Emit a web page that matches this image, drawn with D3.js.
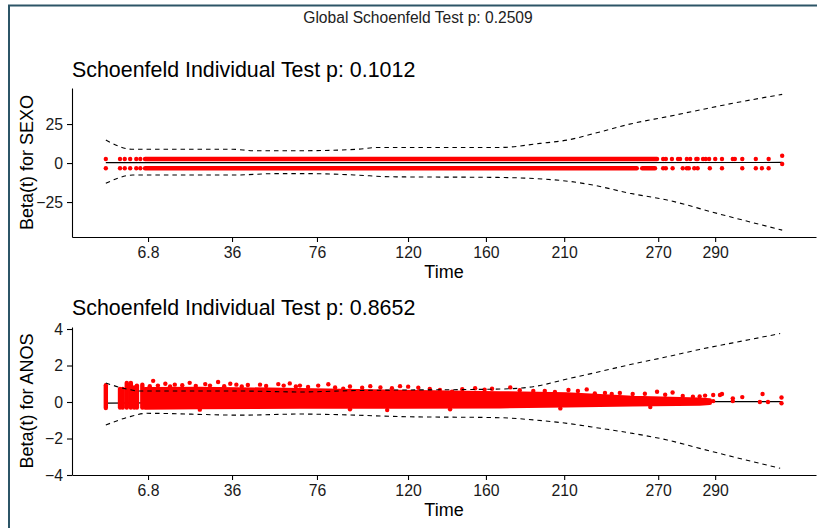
<!DOCTYPE html>
<html>
<head>
<meta charset="utf-8">
<script src="https://cdn.jsdelivr.net/npm/d3@7"></script>
<style>
  html, body { margin: 0; padding: 0; background: #fff; }
  svg { display: block; font-family: "Liberation Sans", Arial, sans-serif; }
</style>
</head>
<body>
<svg id="chart" width="817" height="528"></svg>
<script>
// ---------------- DATA ----------------
const globalTitle = "Global Schoenfeld Test p: 0.2509";
const panelTitles = ["Schoenfeld Individual Test p: 0.1012", "Schoenfeld Individual Test p: 0.8652"];
const yLabels = ["Beta(t) for SEXO", "Beta(t) for ANOS"];
const xLabel = "Time";

// x axis: transformed time (KM scale), tick positions and their time labels
const tickT = [0.0624, 0.1866, 0.3122, 0.4468, 0.562, 0.6777, 0.8167, 0.9009];
const tickLabels = ["6.8", "36", "76", "120", "160", "210", "270", "290"];

const sexoYTicks = [-25, 0, 25];
const anosYTicks = [-4, -2, 0, 2, 4];

// ---- SEXO panel ----
const sexoFitT = [0, 0.3, 0.6, 1.0];
const sexoFitV = [0.3, 0.3, 0.3, 0.4];
const sexoUpT = [0, 0.040, 0.188, 0.218, 0.287, 0.371, 0.401, 0.583, 0.642, 0.682, 0.731, 0.779, 0.830, 0.878, 0.927, 1.0];
const sexoUpV = [14.7, 8.8, 8.8, 7.9, 7.9, 8.8, 10, 10, 12.6, 14.7, 20, 25.4, 29.7, 34, 38.3, 44];
const sexoLoT = [0, 0.040, 0.188, 0.250, 0.300, 0.371, 0.420, 0.578, 0.676, 0.720, 0.775, 0.830, 0.904, 1.0];
const sexoLoV = [-13, -7.7, -7.7, -6.8, -6.8, -7.7, -8.8, -9.2, -11.3, -14.1, -19.4, -23.7, -32.3, -43];
const sexoRowUpper = 2.6;   // residual level for one group
const sexoRowLower = -3.3;  // residual level for the other group
// dense runs of points (start, end) in transformed time
const sexoUpperRunStart = [0.058];
const sexoUpperRunEnd   = [0.815];
const sexoLowerRunStart = [0.058, 0.793];
const sexoLowerRunEnd   = [0.785, 0.812];
// isolated points
const sexoUpperPtsT = [0, 0.021, 0.028, 0.036, 0.045, 0.051, 0.824, 0.828, 0.837, 0.846, 0.849, 0.859, 0.864, 0.873, 0.875, 0.883, 0.887, 0.892, 0.901, 0.911, 0.927, 0.930, 0.941, 0.961, 0.980];
const sexoLowerPtsT = [0, 0.021, 0.028, 0.036, 0.045, 0.051, 0.824, 0.828, 0.838, 0.853, 0.859, 0.862, 0.870, 0.875, 0.893, 0.911, 0.941, 0.961, 0.970, 0.980];
const sexoLastT = [1.0, 1.0];
const sexoLastV = [4.7, -0.6];

// ---- ANOS panel ----
const anosFitT = [0, 0.3, 0.6, 1.0];
const anosFitV = [-0.06, 0, 0.02, 0.02];
const anosUpT = [0, 0.031, 0.051, 0.2, 0.287, 0.361, 0.583, 0.632, 0.682, 0.731, 0.779, 0.830, 0.878, 0.927, 0.997];
const anosUpV = [1.04, 0.71, 0.6, 0.6, 0.55, 0.62, 0.71, 0.84, 1.26, 1.67, 2.08, 2.48, 2.88, 3.24, 3.75];
const anosLoT = [0, 0.036, 0.061, 0.2, 0.287, 0.361, 0.435, 0.583, 0.632, 0.682, 0.731, 0.779, 0.830, 0.878, 0.927, 0.997];
const anosLoV = [-1.26, -0.8, -0.62, -0.72, -0.66, -0.71, -0.8, -0.86, -0.98, -1.17, -1.44, -1.72, -2.08, -2.54, -3.0, -3.63];
// early tied event times: column of residuals (min, max)
const anosColT    = [0, 0.021, 0.025, 0.031, 0.037, 0.042, 0.046, 0.054];
const anosColLow  = [-0.33, -0.3, -0.3, -0.3, -0.3, -0.3, -0.3, -0.3];
const anosColHigh = [0.92, 0.72, 0.72, 1.05, 1.05, 0.8, 0.9, 0.95];
// dense cloud envelope (point centres)
const anosBandT    = [0.058, 0.139, 0.287, 0.435, 0.583, 0.682, 0.779, 0.878, 0.893];
const anosBandHigh = [0.70, 0.72, 0.65, 0.55, 0.47, 0.42, 0.22, 0.12, 0.08];
const anosBandLow  = [-0.30, -0.28, -0.25, -0.25, -0.23, -0.18, -0.12, -0.08, -0.05];
// individual points outside the dense cloud
const anosPtT = [0.070, 0.088, 0.102, 0.124, 0.147, 0.166, 0.184, 0.210, 0.228, 0.255, 0.272, 0.287, 0.329, 0.351, 0.391, 0.435, 0.447, 0.494, 0.512, 0.571, 0.598, 0.632, 0.684, 0.711, 0.723, 0.748, 0.779, 0.815, 0.838, 0.853, 0.868, 0.898, 0.898, 0.908, 0.911, 0.927, 0.927, 0.941, 0.967, 0.971, 0.979, 0.999, 0.999,
  0.065, 0.077, 0.095, 0.113, 0.133, 0.154, 0.175, 0.193, 0.201, 0.237, 0.263, 0.281, 0.299, 0.314, 0.339, 0.361, 0.379, 0.406, 0.423, 0.462, 0.479, 0.527, 0.546, 0.560, 0.612, 0.649, 0.664, 0.698, 0.738, 0.760, 0.797, 0.827, 0.878, 0.886,
  0.139, 0.361, 0.416, 0.509, 0.672, 0.805];
const anosPtV = [1.16, 1.0, 0.95, 1.05, 0.98, 1.1, 1.0, 0.93, 0.95, 0.98, 1.02, 0.9, 0.97, 0.73, 0.87, 0.87, 0.84, 0.66, 0.56, 0.73, 0.8, 0.6, 0.66, 0.69, 0.47, 0.44, 0.44, 0.56, 0.52, 0.33, 0.29, 0.38, 0.05, 0.38, 0.44, 0.2, 0.05, 0.27, 0.0, 0.44, 0.0, 0.25, -0.07,
  0.86, 0.9, 0.85, 0.92, 0.88, 0.9, 0.86, 0.95, 0.85, 0.88, 0.9, 0.85, 0.82, 0.9, 0.8, 0.85, 0.78, 0.8, 0.75, 0.78, 0.72, 0.7, 0.75, 0.68, 0.65, 0.6, 0.55, 0.6, 0.5, 0.5, 0.45, 0.4, 0.3, 0.35,
  -0.42, -0.4, -0.44, -0.4, -0.35, -0.28];

// ---------------- DRAW ----------------
const svg = d3.select("#chart");
const PT_R = 2.2;
const RED = "#FF0000";

// window frame
svg.append("path")
  .attr("d", `M9,528 L9,5.5 L817,5.5`)
  .attr("fill", "none").attr("stroke", "#2c5567").attr("stroke-width", 2);

svg.append("text")
  .attr("x", 418).attr("y", 23)
  .attr("text-anchor", "middle")
  .attr("font-size", "15.6px").attr("fill", "#222")
  .text(globalTitle);

const x = d3.scaleLinear().domain([-0.05, 1.05]).range([72, 816]);

function panel(cfg) {
  const g = svg.append("g");
  const y = d3.scaleLinear().domain(cfg.yDomain).range([cfg.bottom, cfg.top]);

  // fit line (under points)
  const line = d3.line().x(d => x(d[0])).y(d => y(d[1])).curve(d3.curveMonotoneX);
  g.append("path").datum(d3.zip(cfg.fitT, cfg.fitV))
    .attr("d", line).attr("fill", "none").attr("stroke", "#000").attr("stroke-width", 1.1);

  cfg.drawPoints(g, y);

  // confidence bands (dashed, on top)
  [[cfg.upT, cfg.upV], [cfg.loT, cfg.loV]].forEach(([tt, vv]) => {
    g.append("path").datum(d3.zip(tt, vv))
      .attr("d", line).attr("fill", "none").attr("stroke", "#000")
      .attr("stroke-width", 1.1).attr("stroke-dasharray", "4.5,4");
  });

  // axes
  const xAxis = d3.axisBottom(x).tickValues(tickT)
    .tickFormat((d, i) => tickLabels[i]).tickSize(5).tickSizeOuter(0).tickPadding(5);
  const gx = g.append("g").attr("transform", `translate(0,${cfg.bottom})`).call(xAxis);
  const yAxis = d3.axisLeft(y).tickValues(cfg.yTicks).tickSize(5).tickSizeOuter(0).tickPadding(4);
  const gy = g.append("g").attr("transform", `translate(72,0)`).call(yAxis);
  [gx, gy].forEach(a => {
    a.select(".domain").attr("stroke", "#000").attr("stroke-width", 1.1);
    a.selectAll(".tick line").attr("stroke", "#000").attr("stroke-width", 1.1);
    a.selectAll(".tick text").attr("font-size", "15.8px").attr("fill", "#1a1a1a")
      .attr("font-family", "'Liberation Sans', Arial, sans-serif");
  });

  g.append("text").attr("x", 72).attr("y", cfg.titleY)
    .attr("font-size", "21.4px").attr("fill", "#000").text(cfg.title);
  g.append("text").attr("x", 444).attr("y", cfg.bottom + 41)
    .attr("text-anchor", "middle").attr("font-size", "18px").attr("fill", "#000").text(xLabel);
  g.append("text")
    .attr("transform", `translate(33,${(cfg.top + cfg.bottom) / 2}) rotate(-90)`)
    .attr("text-anchor", "middle").attr("font-size", "18px").attr("fill", "#000").text(cfg.yLabel);
}

panel({
  top: 88, bottom: 237, yDomain: [-47.4, 48.1], yTicks: sexoYTicks,
  title: panelTitles[0], titleY: 77, yLabel: yLabels[0],
  fitT: sexoFitT, fitV: sexoFitV, upT: sexoUpT, upV: sexoUpV, loT: sexoLoT, loV: sexoLoV,
  drawPoints: (g, y) => {
    const runs = [
      ...sexoUpperRunStart.map((s, i) => [s, sexoUpperRunEnd[i], sexoRowUpper]),
      ...sexoLowerRunStart.map((s, i) => [s, sexoLowerRunEnd[i], sexoRowLower])
    ];
    g.selectAll(null).data(runs).join("line")
      .attr("x1", d => x(d[0])).attr("x2", d => x(d[1]))
      .attr("y1", d => y(d[2])).attr("y2", d => y(d[2]))
      .attr("stroke", RED).attr("stroke-width", PT_R * 2).attr("stroke-linecap", "round");
    const pts = [
      ...sexoUpperPtsT.map(t => [t, sexoRowUpper]),
      ...sexoLowerPtsT.map(t => [t, sexoRowLower]),
      ...sexoLastT.map((t, i) => [t, sexoLastV[i]])
    ];
    g.selectAll(null).data(pts).join("circle")
      .attr("cx", d => x(d[0])).attr("cy", d => y(d[1])).attr("r", PT_R).attr("fill", RED);
  }
});

panel({
  top: 327, bottom: 475, yDomain: [-4, 4.11], yTicks: anosYTicks,
  title: panelTitles[1], titleY: 315, yLabel: yLabels[1],
  fitT: anosFitT, fitV: anosFitV, upT: anosUpT, upV: anosUpV, loT: anosLoT, loV: anosLoV,
  drawPoints: (g, y) => {
    // early tied columns
    g.selectAll(null).data(anosColT.map((t, i) => [t, anosColLow[i], anosColHigh[i]])).join("line")
      .attr("x1", d => x(d[0])).attr("x2", d => x(d[0]))
      .attr("y1", d => y(d[1])).attr("y2", d => y(d[2]))
      .attr("stroke", RED).attr("stroke-width", PT_R * 2).attr("stroke-linecap", "round");
    // dense cloud
    const area = d3.area().x(d => x(d[0])).y0(d => y(d[1])).y1(d => y(d[2]));
    g.append("path").datum(anosBandT.map((t, i) => [t, anosBandLow[i], anosBandHigh[i]]))
      .attr("d", area).attr("fill", RED).attr("stroke", RED)
      .attr("stroke-width", PT_R * 2).attr("stroke-linejoin", "round");
    g.selectAll(null).data(anosPtT.map((t, i) => [t, anosPtV[i]])).join("circle")
      .attr("cx", d => x(d[0])).attr("cy", d => y(d[1])).attr("r", PT_R).attr("fill", RED);
  }
});
</script>
</body>
</html>
